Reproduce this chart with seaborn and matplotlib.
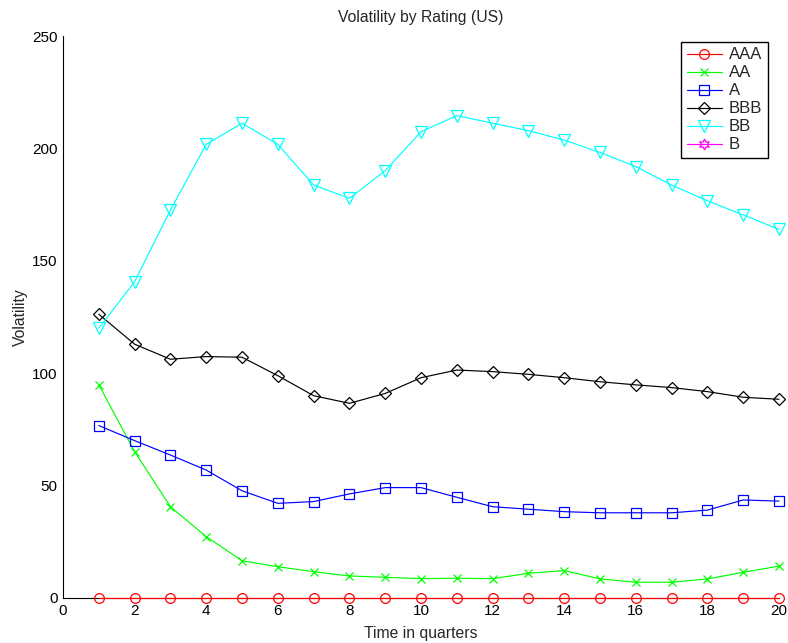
import numpy as np
import pandas as pd
import matplotlib
matplotlib.use("Agg")
import matplotlib.pyplot as plt
import seaborn as sns

quarters = list(range(1, 21))

aaa_vol = [0.0] * 20
aa_vol = [94.8, 65.1, 40.6, 27.3, 16.6, 13.9, 11.7, 9.8, 9.2, 8.6,
          8.8, 8.6, 11.0, 12.2, 8.5, 7.0, 7.0, 8.5, 11.4, 14.2]
a_vol = [76.7, 70.0, 63.6, 56.9, 47.7, 42.1, 42.9, 46.3, 49.1, 49.1,
         44.8, 40.6, 39.5, 38.4, 37.9, 37.9, 37.9, 39.1, 43.6, 43.1]
bbb_vol = [126.2, 112.9, 106.2, 107.4, 107.1, 98.9, 90.0, 86.6, 91.0, 98.0,
           101.4, 100.7, 99.5, 98.0, 96.2, 94.8, 93.6, 91.8, 89.3, 88.4]
bb_vol = [120.0, 140.7, 172.6, 201.8, 211.2, 201.8, 183.7, 177.8, 190.1, 207.4,
          214.6, 211.2, 207.9, 203.7, 198.2, 191.9, 183.7, 176.7, 170.4, 164.0]
b_vol = [np.nan] * 20

ratings = ["AAA", "AA", "A", "BBB", "BB", "B"]
series = [aaa_vol, aa_vol, a_vol, bbb_vol, bb_vol, b_vol]
colors = ["#ff0000", "#00ff00", "#0000ff", "#000000", "#00ffff", "#ff00ff"]
markers = ["o", "x", "s", "D", "v", (6, 1, 0)]
msizes = [7, 6, 6.5, 5.8, 8, 8]

sns.set_style("white")
plt.rcParams["font.family"] = ["Liberation Sans", "DejaVu Sans"]
plt.rcParams["font.size"] = 11

fig = plt.figure(figsize=(7.88, 6.43), dpi=100)
ax = fig.add_axes([0.080, 0.070, 0.9086, 0.874])

for name, vals, col, mk, ms in zip(ratings, series, colors, markers, msizes):
    df = pd.DataFrame({"quarter": quarters, "vol": vals})
    if df["vol"].notna().any():
        sns.lineplot(data=df, x="quarter", y="vol", ax=ax, color=col,
                     marker=mk, markersize=ms, markerfacecolor="none",
                     markeredgecolor=col, markeredgewidth=0.9,
                     linewidth=0.85, label=name, clip_on=False, zorder=3)
    else:
        ax.plot(df["quarter"], df["vol"], color=col, marker=mk,
                markersize=ms, markerfacecolor="none", markeredgecolor=col,
                markeredgewidth=0.9, linewidth=0.85, label=name)

ax.set_xlim(0, 20)
ax.set_ylim(0, 250)
ax.set_xticks(range(0, 21, 2))
ax.set_yticks(range(0, 251, 50))
ax.tick_params(direction="in", length=5, width=0.8, colors="black",
               labelsize=11, pad=4)
for side in ["top", "right"]:
    ax.spines[side].set_visible(False)
for side in ["left", "bottom"]:
    ax.spines[side].set_color("black")
    ax.spines[side].set_linewidth(0.8)

ax.set_title("Volatility by Rating (US)", fontsize=11.3, pad=10)
ax.set_xlabel("Time in quarters", fontsize=11.3, labelpad=6)
ax.set_ylabel("Volatility", fontsize=11.3, labelpad=3)

leg = ax.legend(loc="upper right", bbox_to_anchor=(0.985, 0.99), frameon=True,
                fancybox=False, edgecolor="black", framealpha=1,
                handlelength=2.1, handletextpad=0.45, borderpad=0.35,
                labelspacing=0.18, fontsize=12, borderaxespad=0.0)
leg.get_frame().set_linewidth(1.0)

fig.savefig("out.png", dpi=100)
